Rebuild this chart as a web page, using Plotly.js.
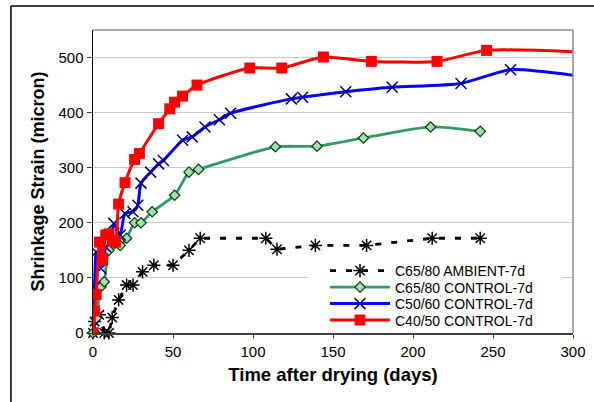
<!DOCTYPE html>
<html>
<head>
<meta charset="utf-8">
<script src="https://cdn.plot.ly/plotly-3.0.1.min.js"></script>
<style>html,body{margin:0;padding:0;background:#fff;}#chart{width:594px;height:402px;}</style>
</head>
<body>
<div id="chart"></div>
<script>
// Time after drying (days) and shrinkage strain (micron) per series
const ambX   = [0, 1, 4, 7, 10, 12, 16, 21, 25, 31, 38, 50, 60, 67, 108, 115, 139, 171, 212, 242];
const ambY   = [0, 21, 33, 0, 0, 28, 60, 87, 87, 111, 123, 123, 150, 172, 172, 152, 159, 159, 172, 172];

const c6580X = [0, 2, 5, 7, 10, 17, 21, 26, 30, 37, 51, 60, 66, 114, 140, 169, 211, 242];
const c6580Y = [0, 27, 84, 93, 150, 159, 172, 200, 200, 220, 250, 292, 297, 338, 339, 354, 374, 366];

const c5060X = [0, 0.5, 1, 2, 5, 8, 11, 13, 17, 20, 25, 28, 30, 36, 41, 44, 56, 62, 70, 79, 86, 124, 131, 158, 187, 230, 261, 305];
const c5060Y = [0, 12, 84, 147, 117, 156, 165, 199, 178, 217, 220, 232, 272, 292, 307, 313, 350, 356, 374, 387, 399, 425, 428, 438, 446, 453, 478, 466];

const c4050X = [0, 1, 2, 4, 6, 8, 10, 12, 14, 16, 20, 26, 29, 41, 48, 51, 56, 65, 98, 118, 144, 174, 215, 246, 305];
const c4050Y = [0, 40, 70, 165, 133, 178, 180, 168, 165, 234, 273, 315, 326, 380, 407, 419, 430, 450, 481, 481, 501, 493, 493, 513, 510];

const seriesNames = ["C65/80 AMBIENT-7d", "C65/80 CONTROL-7d", "C50/60 CONTROL-7d", "C40/50 CONTROL-7d"];
const yTicks = [0, 100, 200, 300, 400, 500];
const xTicks = [0, 50, 100, 150, 200, 250, 300];

const F = 'Arial, "Liberation Sans", sans-serif';

const traces = [
  {
    x: ambX, y: ambY, name: seriesNames[0], type: 'scatter', mode: 'lines+markers', legend: 'legend',
    line: {color: '#000000', width: 2.8, dash: '6px,10px', shape: 'linear'},
    marker: {symbol: 'asterisk-open', size: 11, color: '#000000', line: {color: '#000000', width: 1.5}},
    cliponaxis: false
  },
  {
    x: c6580X, y: c6580Y, name: seriesNames[1], type: 'scatter', mode: 'lines+markers', legend: 'legend2',
    line: {color: '#339966', width: 2.8, shape: 'spline', smoothing: 0.6},
    marker: {symbol: 'diamond', size: 8, color: '#a8dcb8', line: {color: '#004000', width: 1.2}},
    cliponaxis: false
  },
  {
    x: c5060X, y: c5060Y, name: seriesNames[2], type: 'scatter', mode: 'lines+markers', legend: 'legend3',
    line: {color: '#0000ff', width: 3, shape: 'spline', smoothing: 0.6},
    marker: {symbol: 'x-thin-open', size: 11, color: '#000080', line: {color: '#000080', width: 1.5},
             opacity: c5060X.map(v => v > 300 ? 0 : 1)},
    cliponaxis: true
  },
  {
    x: c4050X, y: c4050Y, name: seriesNames[3], type: 'scatter', mode: 'lines+markers', legend: 'legend4',
    line: {color: '#ff0000', width: 3, shape: 'spline', smoothing: 0.6},
    marker: {symbol: 'square', size: 11, color: '#ff0000',
             opacity: c4050X.map(v => v > 300 ? 0 : 1)},
    cliponaxis: true
  }
];

const rowY = [271, 287.5, 304, 320.5];
function leg(i) {
  return {
    x: (325 - 93) / 480, y: (333 - rowY[i]) / 303, xanchor: 'left', yanchor: 'middle',
    bgcolor: 'rgba(0,0,0,0)', borderwidth: 0,
    font: {family: F, size: 14, color: '#000000'},
    itemwidth: 60, tracegroupgap: 0
  };
}

const layout = {
  width: 594, height: 402,
  margin: {l: 93, r: 21, t: 30, b: 69, pad: 0},
  paper_bgcolor: '#ffffff', plot_bgcolor: '#ffffff',
  font: {family: F, size: 15, color: '#000000'},
  showlegend: true,
  legend: leg(0), legend2: leg(1), legend3: leg(2), legend4: leg(3),
  xaxis: {
    range: [0, 300], tickvals: xTicks, ticktext: xTicks.map(String),
    showgrid: false, zeroline: false,
    showline: true, linecolor: '#404040', linewidth: 1.5,
    ticks: 'outside', ticklen: 4, tickcolor: '#404040',
    tickfont: {family: F, size: 15, color: '#000000'},
    title: {text: 'Time after drying (days)', font: {family: F, size: 18.5, color: '#000000', weight: 'bold'}, standoff: 9}
  },
  yaxis: {
    range: [0, 550], tickvals: yTicks, ticktext: yTicks.map(String),
    showgrid: true, gridcolor: '#c8c8c8', gridwidth: 1,
    zeroline: false,
    showline: true, linecolor: '#000000', linewidth: 1.5,
    ticks: 'outside', ticklen: 5, tickcolor: '#404040',
    tickfont: {family: F, size: 15, color: '#000000'},
    title: {text: 'Shrinkage Strain (micron)', font: {family: F, size: 18, color: '#000000', weight: 'bold'}, standoff: 9}
  },
  shapes: [
    {type: 'rect', xref: 'paper', yref: 'paper', layer: 'above',
     x0: (308 - 93) / 480, x1: (562 - 93) / 480, y0: (333 - 330) / 303, y1: (333 - 261) / 303,
     fillcolor: '#ffffff', line: {width: 0}},
    {type: 'line', xref: 'paper', yref: 'paper', x0: 0, x1: 1, y0: 1, y1: 1, line: {color: '#909090', width: 1.5}},
    {type: 'line', xref: 'paper', yref: 'paper', x0: 1, x1: 1, y0: 0, y1: 1, line: {color: '#909090', width: 1.5}},
    {type: 'line', xref: 'paper', yref: 'paper', x0: -0.171, x1: 1.5, y0: 1.079, y1: 1.079, line: {color: '#000000', width: 1.5}},
    {type: 'line', xref: 'paper', yref: 'paper', x0: -0.171, x1: -0.171, y0: -1, y1: 1.079, line: {color: '#000000', width: 1.5}}
  ]
};

Plotly.newPlot('chart', traces, layout, {displayModeBar: false, staticPlot: true});
</script>
</body>
</html>
